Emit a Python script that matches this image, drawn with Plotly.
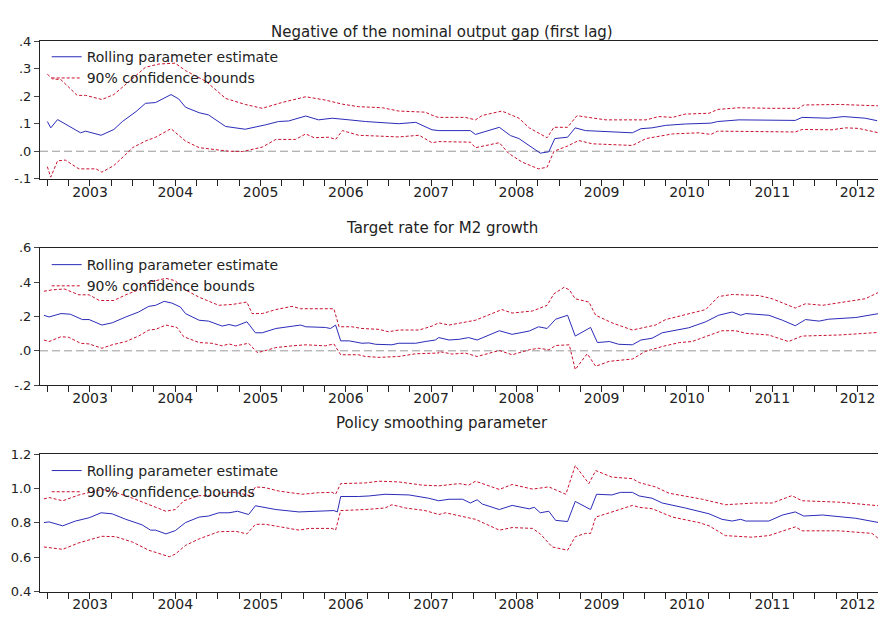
import plotly.graph_objects as go

# ---------- Panel 1: Negative of the nominal output gap (first lag) ----------
p1_est_x = [2003.00,2003.04,2003.12,2003.21,2003.39,2003.45,2003.63,2003.78,2003.88,2004.04,2004.15,2004.27,2004.45,2004.54,2004.62,2004.78,2004.89,2005.09,2005.32,2005.56,2005.71,2005.83,2006.03,2006.18,2006.34,2006.54,2006.73,2007.12,2007.32,2007.51,
            2007.59,2007.96,2008.02,2008.30,2008.43,2008.53,2008.65,2008.78,2008.88,2008.95,2009.10,2009.19,2009.31,2009.70,2009.86,2009.96,2010.09,2010.25,2010.48,2010.78,2010.86,2011.11,2011.50,2011.77,2011.85,2012.16,2012.34,2012.59,2012.73]
p1_est_y = [.108,.085,.115,.10,.067,.073,.058,.079,.108,.144,.174,.177,.206,.19,.16,.14,.132,.09,.08,.096,.108,.11,.128,.114,.12,.114,.108,.10,.105,.078,
            .075,.075,.061,.087,.057,.046,.019,-.007,-.002,.046,.051,.085,.075,.069,.067,.082,.085,.094,.099,.102,.108,.114,.114,.112,.123,.12,.126,.12,.111]
p1_up_x = [2003.00,2003.06,2003.16,2003.35,2003.45,2003.64,2003.78,2003.92,2004.04,2004.15,2004.31,2004.50,2004.62,2004.86,2005.09,2005.32,2005.52,2005.75,2006.03,2006.26,2006.46,2006.65,2006.93,2007.12,2007.43,2007.55,
           2007.59,2007.90,2008.02,2008.10,2008.33,2008.53,2008.65,2008.86,2008.94,2009.10,2009.21,2009.55,2010.02,2010.17,2010.33,2010.48,2010.76,2010.86,2011.11,2011.50,2011.81,2011.87,2012.28,2012.75]
p1_up_y = [.28,.263,.26,.203,.203,.188,.206,.242,.275,.305,.317,.32,.293,.254,.192,.17,.156,.177,.198,.186,.171,.162,.158,.146,.142,.126,
           .123,.123,.114,.13,.146,.12,.085,.049,.087,.087,.129,.114,.114,.126,.123,.135,.138,.152,.158,.156,.156,.168,.17,.165]
p1_lo_x = [2003.00,2003.04,2003.12,2003.21,2003.37,2003.57,2003.64,2003.78,2003.90,2004.00,2004.15,2004.27,2004.45,2004.56,2004.62,2004.78,2004.97,2005.13,2005.29,2005.52,2005.68,2005.91,2006.03,2006.13,2006.30,2006.38,2006.46,2006.65,2007.12,2007.36,2007.51,
           2007.59,2007.96,2008.02,2008.30,2008.41,2008.57,2008.76,2008.86,2008.94,2009.10,2009.23,2009.39,2009.86,2010.02,2010.33,2010.64,2010.78,2010.86,2011.50,2011.77,2011.85,2012.20,2012.36,2012.51,2012.75]
p1_lo_y = [-.056,-.094,-.035,-.032,-.064,-.064,-.076,-.052,-.017,.013,.037,.051,.082,.055,.037,.013,.007,0,-.001,.015,.043,.043,.063,.049,.051,.043,.075,.058,.052,.058,.031,
           .035,.033,.013,.031,-.008,-.04,-.064,-.058,0,.019,.039,.027,.021,.046,.063,.067,.061,.073,.07,.07,.079,.078,.085,.083,.067]

# ---------- Panel 2: Target rate for M2 growth ----------
p2_est_x = [2002.96,2003.02,2003.16,2003.27,2003.41,2003.49,2003.64,2003.76,2003.92,2004.07,2004.19,2004.27,2004.37,2004.46,2004.56,2004.62,2004.78,2004.89,2005.05,2005.13,2005.21,2005.34,2005.44,2005.52,2005.68,2005.87,2005.97,2006.03,2006.26,2006.32,2006.38,2006.44,2006.54,2006.69,2006.77,2006.85,2007.04,2007.12,2007.32,2007.43,2007.55,
            2007.59,2007.71,2007.83,2007.94,2008.04,2008.30,2008.45,2008.65,2008.76,2008.86,2008.96,2009.10,2009.19,2009.37,2009.45,2009.59,2009.70,2009.86,2009.96,2010.09,2010.21,2010.52,2010.72,2010.87,2011.03,2011.13,2011.19,2011.46,2011.62,2011.77,2011.89,2012.05,2012.16,2012.48,2012.75]
p2_est_y = [.207,.197,.217,.213,.182,.182,.15,.163,.197,.226,.259,.265,.288,.278,.255,.217,.178,.173,.144,.153,.144,.169,.105,.105,.13,.144,.15,.14,.136,.13,.15,.058,.058,.044,.046,.038,.035,.044,.044,.054,.063,
            .077,.063,.067,.077,.063,.117,.096,.115,.14,.13,.184,.207,.086,.136,.048,.054,.038,.035,.063,.073,.105,.134,.169,.207,.226,.207,.217,.207,.178,.146,.182,.173,.184,.194,.217]
p2_up_x = [2002.96,2003.06,2003.20,2003.37,2003.49,2003.61,2003.78,2003.92,2004.07,2004.19,2004.39,2004.50,2004.60,2004.78,2005.01,2005.17,2005.34,2005.40,2005.52,2005.68,2005.87,2005.97,2006.30,2006.36,2006.42,2006.57,2006.69,2006.89,2007.00,2007.12,2007.36,2007.51,
           2007.59,2007.71,2008.02,2008.33,2008.45,2008.69,2008.86,2008.94,2009.06,2009.12,2009.19,2009.35,2009.43,2009.62,2009.86,2010.13,2010.25,2010.56,2010.72,2010.87,2011.03,2011.34,2011.50,2011.77,2011.89,2012.09,2012.59,2012.75]
p2_up_y = [.347,.355,.36,.326,.326,.293,.293,.326,.355,.399,.422,.408,.36,.312,.265,.27,.284,.217,.217,.24,.259,.245,.245,.245,.14,.14,.13,.125,.111,.121,.121,.144,
           .163,.15,.178,.24,.22,.232,.265,.332,.37,.355,.303,.284,.207,.163,.121,.15,.182,.22,.24,.316,.328,.322,.303,.249,.274,.265,.303,.341]
p2_lo_x = [2002.96,2003.02,2003.16,2003.25,2003.39,2003.49,2003.64,2003.76,2003.92,2004.07,2004.19,2004.27,2004.39,2004.52,2004.60,2004.78,2004.93,2005.05,2005.13,2005.21,2005.36,2005.46,2005.52,2005.68,2005.87,2006.03,2006.26,2006.36,2006.44,2006.65,2006.73,2006.89,2007.12,2007.32,2007.59,
           2007.59,2007.75,2007.90,2008.04,2008.30,2008.45,2008.65,2008.76,2008.88,2008.96,2009.12,2009.19,2009.33,2009.43,2009.59,2009.86,2010.01,2010.21,2010.41,2010.56,2010.91,2011.07,2011.19,2011.46,2011.69,2011.85,2012.28,2012.75]
p2_lo_y = [.063,.054,.082,.079,.044,.04,.015,.035,.054,.086,.121,.125,.15,.136,.082,.048,.044,.029,.04,.029,.044,-.01,-.004,.019,.029,.035,.029,.04,-.023,-.023,-.033,-.038,-.033,-.017,-.013,
           -.004,-.019,-.013,-.033,.002,-.023,.006,.015,.006,.031,.035,-.109,-.017,-.09,-.061,-.048,-.004,.025,.048,.054,.117,.117,.102,.092,.054,.086,.092,.107]

# ---------- Panel 3: Policy smoothing parameter ----------
p3_est_x = [2002.96,2003.02,2003.18,2003.33,2003.49,2003.63,2003.76,2003.92,2004.11,2004.21,2004.27,2004.39,2004.50,2004.62,2004.78,2004.89,2005.01,2005.13,2005.23,2005.36,2005.44,2005.56,2005.68,2005.95,2006.26,2006.36,2006.40,2006.44,2006.65,2006.77,2006.96,2007.24,2007.47,2007.59,
            2007.71,2007.87,2007.96,2008.04,2008.10,2008.30,2008.45,2008.65,2008.71,2008.78,2008.88,2008.96,2009.10,2009.19,2009.37,2009.44,2009.62,2009.72,2009.86,2009.94,2010.09,2010.21,2010.48,2010.76,2010.91,2011.03,2011.13,2011.19,2011.46,2011.62,2011.77,2011.87,2012.09,2012.48,2012.75]
p3_est_y = [.802,.806,.783,.811,.830,.859,.853,.821,.789,.758,.758,.736,.755,.802,.834,.840,.859,.859,.868,.849,.90,.891,.878,.864,.868,.872,.864,.954,.954,.957,.967,.963,.944,.929,
            .938,.938,.916,.935,.91,.878,.902,.882,.891,.859,.868,.815,.808,.925,.878,.967,.963,.978,.978,.957,.944,.916,.887,.853,.821,.811,.821,.811,.811,.846,.864,.840,.846,.827,.802]
p3_up_x = [2002.96,2003.02,2003.18,2003.37,2003.64,2003.80,2004.00,2004.19,2004.39,2004.50,2004.60,2004.78,2004.97,2005.05,2005.21,2005.38,2005.44,2005.56,2005.71,2005.99,2006.18,2006.34,2006.38,2006.44,2006.73,2006.89,2007.12,2007.40,2007.59,
           2007.83,2007.94,2008.02,2008.30,2008.45,2008.69,2008.88,2009.08,2009.19,2009.35,2009.43,2009.62,2009.86,2009.94,2010.13,2010.29,2010.68,2010.95,2011.30,2011.50,2011.73,2011.85,2012.28,2012.75]
p3_up_y = [.94,.948,.929,.963,.995,.978,.944,.906,.868,.878,.929,.959,.959,.978,.978,.959,1.010,1.005,.986,.967,.976,.978,.967,1.029,1.033,1.043,1.039,1.020,1.016,
           1.029,1.020,1.043,.995,1.024,.997,1.010,.967,1.134,1.029,1.105,1.067,1.058,1.035,1.010,.973,.938,.906,.916,.916,.959,.929,.921,.900]
p3_lo_x = [2002.96,2003.02,2003.18,2003.37,2003.64,2003.80,2004.00,2004.19,2004.43,2004.50,2004.62,2004.78,2005.01,2005.21,2005.34,2005.44,2005.56,2005.71,2005.95,2006.07,2006.34,2006.38,2006.44,2006.73,2006.96,2007.04,2007.20,2007.43,2007.59,
           2007.67,2007.83,2008.02,2008.30,2008.45,2008.69,2008.78,2008.92,2009.10,2009.19,2009.31,2009.37,2009.43,2009.59,2009.86,2009.94,2010.09,2010.33,2010.64,2010.76,2010.95,2011.26,2011.46,2011.77,2011.85,2012.28,2012.67,2012.75]
p3_lo_y = [.66,.656,.646,.684,.722,.720,.688,.641,.603,.618,.669,.707,.749,.751,.736,.792,.792,.779,.758,.768,.768,.758,.872,.878,.887,.906,.887,.872,.849,
           .859,.840,.821,.758,.773,.768,.736,.660,.641,.720,.739,.739,.834,.859,.902,.891,.883,.834,.802,.783,.726,.717,.726,.777,.754,.754,.739,.707]

titles = ["Negative of the nominal output gap (first lag)", "Target rate for M2 growth", "Policy smoothing parameter"]
est_name = "Rolling parameter estimate"
band_name = "90% confidence bounds"
years = list(range(2003, 2013))
y_ticks = [[-0.1, 0.0, 0.1, 0.2, 0.3, 0.4], [-0.2, 0.0, 0.2, 0.4, 0.6], [0.4, 0.6, 0.8, 1.0, 1.2]]
y_text = [["-.1", ".0", ".1", ".2", ".3", ".4"], ["-.2", ".0", ".2", ".4", ".6"], ["0.4", "0.6", "0.8", "1.0", "1.2"]]

panels = [
    (p1_est_x, p1_est_y, p1_up_x, p1_up_y, p1_lo_x, p1_lo_y),
    (p2_est_x, p2_est_y, p2_up_x, p2_up_y, p2_lo_x, p2_lo_y),
    (p3_est_x, p3_est_y, p3_up_x, p3_up_y, p3_lo_x, p3_lo_y),
]
H = 623
domains = [[1 - 176 / H, 1 - 35 / H], [1 - 387.5 / H, 1 - 246.7 / H], [1 - 599 / H, 1 - 458.3 / H]]
title_y = [1 - 14 / H, 1 - 226 / H, 1 - 438 / H]
legend_y = [1 - 35 / H, 1 - 248 / H, 1 - 459 / H]

BLUE = "#2b2bb8"
RED = "#c8102e"
FONT = "DejaVu Sans, Verdana, sans-serif"
fig = go.Figure()
for i, (ex, ey, ux, uy, lx, ly) in enumerate(panels):
    n = "" if i == 0 else str(i + 1)
    lg = "legend" + n
    fig.add_trace(go.Scatter(x=ex, y=ey, mode="lines", name=est_name, line=dict(color=BLUE, width=1),
                             xaxis="x" + n, yaxis="y" + n, legend=lg))
    fig.add_trace(go.Scatter(x=ux, y=uy, mode="lines", name=band_name, line=dict(color=RED, width=1, dash="3px,2px"),
                             xaxis="x" + n, yaxis="y" + n, legend=lg))
    fig.add_trace(go.Scatter(x=lx, y=ly, mode="lines", showlegend=False, line=dict(color=RED, width=1, dash="3px,2px"),
                             xaxis="x" + n, yaxis="y" + n))
    fig.update_layout(**{
        "xaxis" + n: dict(domain=[0, 1], anchor="y" + n, range=[2002.914, 2012.74],
                          tickvals=[y + 0.5 for y in years], ticktext=[str(y) for y in years],
                          ticks="", showgrid=False, zeroline=False, showline=True, linecolor="#222",
                          linewidth=1, mirror=True,
                          minor=dict(ticks="outside", ticklen=6, tick0=2003, dtick=0.25, tickcolor="#222", showgrid=False),
                          tickfont=dict(size=14, color="#222")),
        "yaxis" + n: dict(domain=domains[i], anchor="x" + n, range=[y_ticks[i][0], y_ticks[i][-1]],
                          tickvals=y_ticks[i], ticktext=y_text[i], ticks="outside", ticklen=5,
                          showgrid=False, zeroline=False, showline=True, linecolor="#222", linewidth=1,
                          tickfont=dict(size=13, color="#222")),
        lg: dict(x=0.008, y=legend_y[i], xref="paper", yref="paper", xanchor="left", yanchor="top",
                 bgcolor="rgba(0,0,0,0)", font=dict(size=14, color="#222"), tracegroupgap=0,
                 itemwidth=30),
    })
    fig.add_annotation(text=titles[i], x=0.48, y=title_y[i], xref="paper", yref="paper",
                       showarrow=False, font=dict(size=15, color="#222"))
    if i < 2:
        fig.add_shape(type="line", xref="x" + n + " domain", yref="y" + n, x0=0, x1=1, y0=0, y1=0,
                      line=dict(color="#999", width=1, dash="8px,4px"), layer="below")

fig.update_layout(width=881, height=623, margin=dict(l=40, r=3, t=0, b=0),
                  plot_bgcolor="white", paper_bgcolor="white",
                  font=dict(family=FONT))
fig.write_html("out.html", config={"displayModeBar": False},
               post_script="document.body.style.margin='0';document.body.style.overflow='hidden';")
